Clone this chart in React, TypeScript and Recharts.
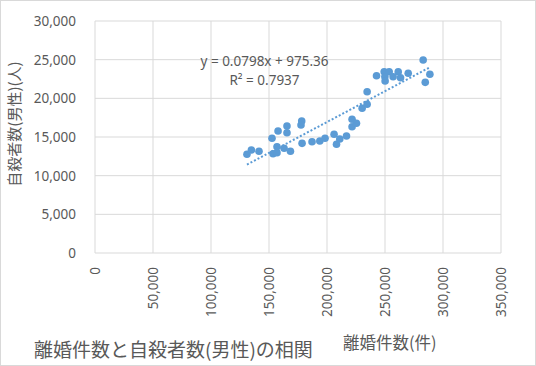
import React from "react";
import {
  ScatterChart,
  Scatter,
  XAxis,
  YAxis,
  CartesianGrid,
  ReferenceLine,
} from "recharts";

// 離婚件数 (件)
const divorces: number[] = [
  131000, 134800, 141400, 152600, 153500, 156900, 156900, 157800, 163000, 165500,
  165500, 168500, 178200, 177600, 178500, 187100, 193800, 198300, 206100, 208200,
  211000, 216800, 221600, 221600, 225400, 230300, 234600, 234600, 242700, 249300,
  253600, 249900, 250100, 257000, 261400, 263400, 270000, 282900, 284700, 288700,
];
// 自殺者数 (男性) (人)
const suicidesMale: number[] = [
  12760, 13320, 13150, 14830, 12840, 13740, 12970, 15770, 13540, 16420,
  15550, 13150, 17070, 16550, 14180, 14390, 14480, 14830, 15350, 14060,
  14740, 15130, 17290, 16330, 16770, 18710, 19230, 20860, 22920, 23440,
  23440, 22800, 22240, 22800, 23440, 22670, 23240, 24950, 22070, 23110,
];

const xTicks: number[] = [0, 50000, 100000, 150000, 200000, 250000, 300000, 350000];
const yTicks: number[] = [0, 5000, 10000, 15000, 20000, 25000, 30000];

const slope = 0.0798;
const intercept = 975.36;
const equationText = "y = 0.0798x + 975.36";
const r2Text = "R² = 0.7937";

const chartTitle = "離婚件数と自殺者数(男性)の相関";
const xTitle = "離婚件数(件)";
const yTitle = "自殺者数(男性)(人)";

const points = divorces.map((x, i) => ({ x, y: suicidesMale[i] }));
const minX = Math.min(...divorces);
const maxX = Math.max(...divorces);
const trendSegment = [
  { x: minX, y: slope * minX + intercept },
  { x: maxX, y: slope * maxX + intercept },
];

const TEXT = "#595959";
const GRID = "#d9d9d9";
const BLUE = "#5B9BD5";
const NUM_FONT = '"Noto Sans", sans-serif';
const CJK_FONT = '"Noto Sans CJK JP", sans-serif';

const fmt = (v: number) => v.toLocaleString("en-US");

const XTick = (props: any) => {
  const { x, y, payload } = props;
  return (
    <text
      x={0}
      y={0}
      transform={`translate(${x},${y}) rotate(-90)`}
      textAnchor="end"
      dy="0.36em"
      fill={TEXT}
      fontSize={13.5}
      fontFamily={NUM_FONT}
    >
      {fmt(payload.value)}
    </text>
  );
};

const YTick = (props: any) => {
  const { x, y, payload } = props;
  return (
    <text
      x={x}
      y={y}
      textAnchor="end"
      dy="0.36em"
      fill={TEXT}
      fontSize={13.5}
      fontFamily={NUM_FONT}
    >
      {fmt(payload.value)}
    </text>
  );
};

const Dot = (props: any) => {
  const { cx, cy } = props;
  return <circle cx={cx} cy={cy} r={3.8} fill={BLUE} />;
};

export default function App() {
  return (
    <div
      style={{
        position: "absolute",
        left: 0,
        top: 0,
        width: 536,
        height: 366,
        background: "#fff",
        overflow: "hidden",
      }}
    >
      <ScatterChart
        width={536}
        height={366}
        margin={{ top: 21, right: 35, bottom: 0, left: 0 }}
      >
        <CartesianGrid stroke={GRID} strokeWidth={1} />
        <XAxis
          type="number"
          dataKey="x"
          domain={[0, 350000]}
          ticks={xTicks}
          interval={0}
          height={113}
          axisLine={false}
          tickLine={false}
          tickSize={0}
          tickMargin={14}
          tick={<XTick />}
          allowDataOverflow
        />
        <YAxis
          type="number"
          dataKey="y"
          domain={[0, 30000]}
          ticks={yTicks}
          interval={0}
          width={95}
          axisLine={false}
          tickLine={false}
          tickSize={0}
          tickMargin={19}
          tick={<YTick />}
          allowDataOverflow
        />
        <Scatter
          data={points}
          fill={BLUE}
          shape={<Dot />}
          isAnimationActive={false}
        />
        <ReferenceLine
          segment={trendSegment}
          stroke={BLUE}
          strokeWidth={2}
          strokeDasharray="2 2"
          ifOverflow="visible"
        />
      </ScatterChart>

      <div
        style={{
          position: "absolute",
          left: 164.5,
          top: 52,
          width: 200,
          lineHeight: "18px",
          textAlign: "center",
          fontFamily: NUM_FONT,
          fontSize: 13.5,
          color: TEXT,
          whiteSpace: "nowrap",
        }}
      >
        {equationText}
      </div>
      <div
        style={{
          position: "absolute",
          left: 164.5,
          top: 71,
          width: 200,
          lineHeight: "18px",
          textAlign: "center",
          fontFamily: NUM_FONT,
          fontSize: 13.5,
          color: TEXT,
          whiteSpace: "nowrap",
        }}
      >
        {r2Text}
      </div>

      <div
        style={{
          position: "absolute",
          left: -66.3,
          top: 114,
          width: 160,
          height: 20,
          lineHeight: "20px",
          textAlign: "center",
          fontFamily: CJK_FONT,
          fontSize: 15,
          color: TEXT,
          whiteSpace: "nowrap",
          transform: "rotate(-90deg)",
        }}
      >
        {yTitle}
      </div>

      <div
        style={{
          position: "absolute",
          left: 343,
          top: 331,
          lineHeight: "22px",
          fontFamily: CJK_FONT,
          fontSize: 16.5,
          color: TEXT,
          whiteSpace: "nowrap",
        }}
      >
        {xTitle}
      </div>

      <div
        style={{
          position: "absolute",
          left: 34,
          top: 334.5,
          lineHeight: "28px",
          fontFamily: CJK_FONT,
          fontSize: 19,
          color: TEXT,
          whiteSpace: "nowrap",
        }}
      >
        {chartTitle}
      </div>

      <div
        style={{
          position: "absolute",
          left: 0,
          top: 0,
          width: 536,
          height: 366,
          boxSizing: "border-box",
          border: `1px solid ${GRID}`,
          pointerEvents: "none",
        }}
      />
    </div>
  );
}
